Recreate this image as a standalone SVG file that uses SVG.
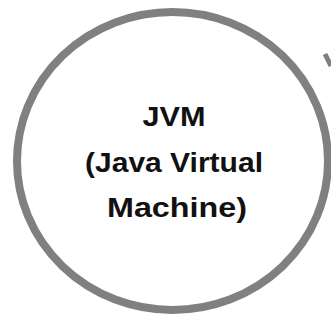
<svg xmlns="http://www.w3.org/2000/svg" width="331" height="320" viewBox="0 0 331 320">
<style>
.ring{fill:#ffffff;stroke:#808080;stroke-width:8}
.lbl{font-family:"Liberation Sans",Arial,sans-serif;font-weight:bold;font-size:27px;fill:#111111;text-anchor:middle}
.conn{stroke:#808080;stroke-width:5;fill:none}
</style>
<rect width="331" height="320" fill="#ffffff"/>
<g id="connectors">
<line class="conn" x1="325" y1="54" x2="331" y2="66"/>
</g>
<g id="jvm">
<ellipse class="ring" cx="172.5" cy="161" rx="155.5" ry="149"/>
<text class="lbl" x="174" y="126" textLength="63" lengthAdjust="spacingAndGlyphs">JVM</text>
<text class="lbl" x="174" y="172" textLength="178" lengthAdjust="spacingAndGlyphs">(Java Virtual</text>
<text class="lbl" x="177" y="217" textLength="140" lengthAdjust="spacingAndGlyphs">Machine)</text>
</g>
</svg>
